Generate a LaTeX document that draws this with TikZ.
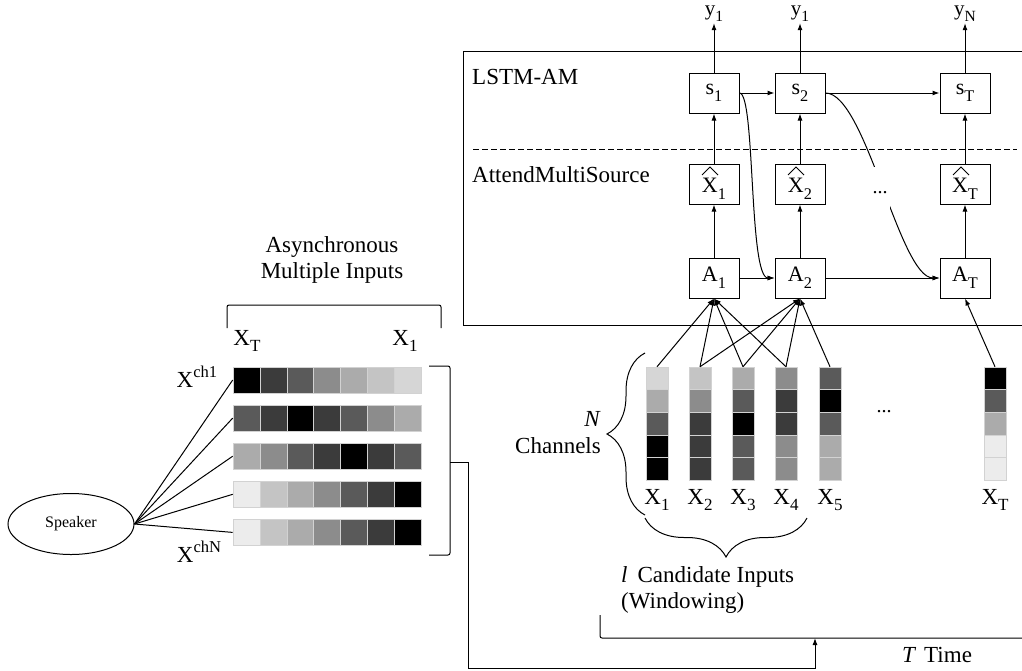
\documentclass[tikz,border=0pt]{standalone}
\usepackage{graphicx}
\usepackage{fontspec}
\setmainfont{Liberation Serif}
\usetikzlibrary{positioning,arrows.meta,calc,shapes.geometric,decorations.pathreplacing}
\definecolor{cell0}{HTML}{000000}
\definecolor{cell1}{HTML}{3B3B3B}
\definecolor{cell2}{HTML}{5A5A5A}
\definecolor{cell3}{HTML}{8C8C8C}
\definecolor{cell4}{HTML}{ABABAB}
\definecolor{cell5}{HTML}{C4C4C4}
\definecolor{cell6}{HTML}{D6D6D6}
\definecolor{cell7}{HTML}{ECECEC}
\newcommand{\fsz}[2]{\fontsize{#1}{#2}\selectfont}
\newcommand{\lo}[1]{\raisebox{-0.3em}{\scalebox{0.74}{#1}}}
\newcommand{\hi}[1]{\raisebox{0.42em}{\scalebox{0.72}{#1}}}
\tikzset{
    base/.style={font=\fsz{23}{26}, inner sep=1pt},
    unit/.style={draw, line width=1pt, fill=white, minimum width=50pt,
                 minimum height=40pt, inner sep=0pt, font=\fsz{22}{22}},
    cell/.style={draw=gray!35, line width=0.5pt, minimum width=26.9pt,
                 minimum height=26.5pt, inner sep=0pt},
    slot/.style={draw=gray!35, line width=0.5pt, minimum width=22.5pt,
                 minimum height=22.6pt, inner sep=0pt},
    flow/.style={-{Latex[length=7pt,width=5pt]}, line width=1pt},
    wire/.style={line width=1pt},
    caret/.style={line width=0.9pt},
    curly/.style={decorate, decoration={brace, amplitude=#1}, line width=1pt}
}

\begin{document}
\begin{tikzpicture}[x=1pt, y=-1pt]
  \useasboundingbox (0,0) rectangle (1022,670);
  \clip (0,0) rectangle (1022,670);

  % Speaker and its asynchronous channels
  \node[draw, wire, ellipse, minimum width=126pt, minimum height=61pt,
        inner sep=0pt, font=\fsz{16}{16}] (spk) at (71,524) {Speaker};
  \foreach \row [count=\r] in {{0,1,2,3,4,5,6},{2,1,0,1,2,3,4},{4,3,2,1,0,1,2},
                               {7,5,4,3,2,1,0},{7,5,4,3,2,1,0}} {
    \foreach \c [count=\i] in \row
      \node[cell, fill=cell\c] (m\r-\i) at ({219.5+\i*26.9}, {380+(\r-1)*38.1}) {};
    \draw[wire] (spk.east) -- (m\r-1.west);
  }
  \node[base, align=center] (async) at (332,260) {Asynchronous\\Multiple Inputs};
  \node[base] (lmT) at (247,341) {X\lo{T}};
  \node[base] (lm1) at (405,341) {X\lo{1}};
  \node[base] (ch1) at (197,377) {X\hi{ch1}};
  \node[base] (chN) at (199,552) {X\hi{chN}};

  % Brackets round the channels
  \draw[wire, rounded corners=2pt] (227,328) -- (227,305) -- (441,305) -- (441,328);
  \draw[wire, rounded corners=2pt] (429,366) -- (450,366) -- (450,555) -- (429,555);
  \coordinate (mbr) at (450,462);

  % LSTM-AM block
  \draw[wire] (463,51) rectangle (1040,325);
  \draw[wire, dash pattern=on 6pt off 3pt] (473,149) -- (1017,149);
  \node[base, anchor=west] (lstm) at (471,77) {LSTM-AM};
  \node[base, anchor=west] (ams) at (471,175) {AttendMultiSource};

  \foreach \n/\xc/\lab in {1/714/1, 2/800/1, T/965/N} {
    \node[unit] (s\n) at (\xc,93) {s\lo{\n}};
    \node[unit] (xh\n) at (\xc,184) {\rule{0pt}{24pt}X\lo{\n}};
    \node[unit] (A\n) at (\xc,278) {A\lo{\n}};
    \node[base, font=\fsz{21}{21}] (y\n) at (\xc,14) {y\lo{\lab}};
    % hat over the attended input
    \draw[caret] ($(xh\n.center)+(-12,-9)$) -- ($(xh\n.center)+(-4,-17)$)
                 -- ($(xh\n.center)+(4,-9)$);
    \draw[flow] (A\n) -- (xh\n);
    \draw[flow] (xh\n) -- (s\n);
    \draw[flow] (s\n) -- (y\n);
  }
  \draw[flow] (s1) -- (s2);
  \draw[flow] (s2) -- (sT);
  \draw[flow] (A1) -- (A2);
  \draw[flow] (A2) -- (AT);
  \draw[flow] (s1.east) .. controls +(16,0) and +(-26,0) .. (A2.west);
  \draw[flow] (s2.east) .. controls +(40,0) and +(-40,0) .. (AT.west);
  \node[fill=white, minimum height=52pt, minimum width=20pt, inner sep=0pt,
        font=\fsz{20}{20}] (gap) at (880,193) {...};

  % Candidate inputs
  \foreach \n/\xc/\cols in {1/657/{6,4,2,0,0}, 2/700/{5,3,1,1,1}, 3/743/{4,2,0,2,2},
                            4/786/{3,1,1,3,3}, 5/830/{2,0,2,4,4}, T/995/{0,2,4,7,7}} {
    \foreach \c [count=\j] in \cols
      \node[slot, fill=cell\c] (x\n-\j) at (\xc, {355.7+\j*22.6}) {};
    \node[base] (lx\n) at (\xc,500) {X\lo{\n}};
  }
  \node[font=\fsz{20}{20}] (idots) at (884,412) {...};
  \foreach \n in {1,2,3,4}
    \draw[flow] (x\n-1.north) -- (A1.south);
  \foreach \n in {2,3,4,5}
    \draw[flow] (x\n-1.north) -- (A2.south);
  \draw[flow] (xT-1.north) -- (AT.south);

  \draw[curly=38pt] (645,515) -- (645,353);
  \node[base, align=right, anchor=east, font=\fsz{23}{27}] (nch) at (602,433)
    {\textit{N}\\Channels};
  \draw[curly=39pt] (807,518) -- (645,518);
  \node[base, align=left, anchor=west] (cand) at (620,590)
    {\textit{l}\hspace{10pt}Candidate Inputs\\(Windowing)};

  % Time axis
  \draw[wire, rounded corners=2pt] (600,615) -- (600,638) -- (1040,638);
  \coordinate (tb) at (815,638);
  \coordinate (low) at (468,668);
  \node[base] (time) at (937,655) {\textit{T}\hspace{8pt}Time};
  \draw[flow] (mbr) -| (low) -| (tb);
\end{tikzpicture}
\end{document}
